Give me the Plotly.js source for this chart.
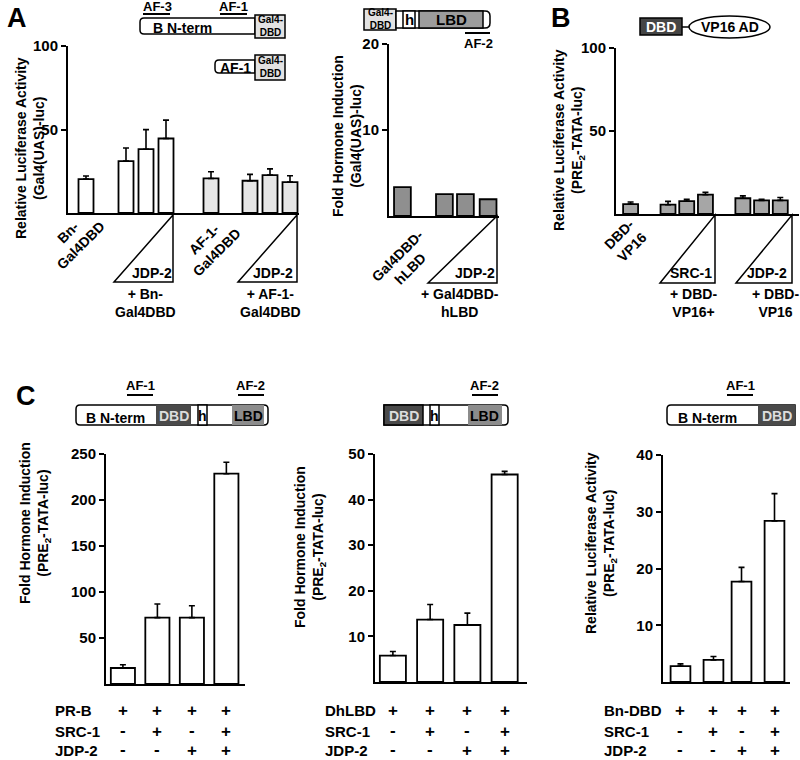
<!DOCTYPE html>
<html><head><meta charset="utf-8">
<script src="https://cdn.plot.ly/plotly-3.0.1.min.js"></script>
<style>body{margin:0;background:#fff}#chart{width:800px;height:760px}</style>
</head><body><div id="chart"></div>
<script>
// ---------------- DATA ----------------
// Panel A (left): Gal4(UAS)-luc, relative luciferase activity
const aLeftLabels = ['Bn-Gal4DBD','Bn + JDP-2 (low)','Bn + JDP-2 (mid)','Bn + JDP-2 (high)',
                     'AF-1-Gal4DBD','AF-1 + JDP-2 (low)','AF-1 + JDP-2 (mid)','AF-1 + JDP-2 (high)'];
const aLeftValues = [20.3, 31.1, 38.2, 44.6, 20.7, 19.3, 22.7, 18.5];
const aLeftErrors = [1.9, 7.8, 11.7, 11.0, 4.0, 3.8, 3.7, 3.8];

// Panel A (middle): fold hormone induction, Gal4DBD-hLBD
const aMidLabels = ['Gal4DBD-hLBD','+ JDP-2 (low)','+ JDP-2 (mid)','+ JDP-2 (high)'];
const aMidValues = [3.35, 2.55, 2.55, 1.95];

// Panel B: PRE2-TATA-luc, DBD-VP16
const bLabels = ['DBD-VP16','SRC-1 (low)','SRC-1 (mid)','SRC-1 (high)','JDP-2 (low)','JDP-2 (mid)','JDP-2 (high)'];
const bValues = [6.0, 5.6, 7.8, 11.7, 9.5, 8.2, 8.2];
const bErrors = [1.2, 2.0, 1.1, 1.4, 1.4, 0.7, 1.7];

// Panel C: conditions (rows of the +/- table)
const cRowNames = ['SRC-1','JDP-2'];
const cSRC1 = ['-','+','-','+'];
const cJDP2 = ['-','-','+','+'];

const cLeftValues  = [17.4, 72.2, 72.2, 228.6];
const cLeftErrors  = [3.6, 14.8, 12.8, 12.4];
const cMidValues   = [5.8, 13.7, 12.5, 45.5];
const cMidErrors   = [0.9, 3.3, 2.6, 0.7];
const cRightValues = [2.8, 3.9, 17.7, 28.4];
const cRightErrors = [0.4, 0.6, 2.5, 4.8];

// ---------------- LAYOUT HELPERS ----------------
const W = 800, H = 760;
const X = x => x / W;
const Y = y => 1 - y / H;
const FONT = 'Liberation Sans, Arial, Helvetica, sans-serif';

// slot positions of the bars along each x axis (layout, not data)
const aLeftSlots = [0, 2, 3, 4, 6.25, 8.2, 9.2, 10.2];
const aMidSlots  = [0, 2, 3, 4.08];
const bSlots     = [0, 2, 3, 4, 6, 7, 8];
const cSlots     = [0, 1, 2, 3];
const cRightSlots= [0, 1, 1.85, 2.85];

const layout = {
  width: W, height: H, margin: {l:0, r:0, t:0, b:0},
  paper_bgcolor: '#fff', plot_bgcolor: 'rgba(0,0,0,0)',
  showlegend: false, bargap: 0,
  font: {family: FONT, color: '#000'},
  shapes: [], annotations: []
};

function addAxes(n, x0, x1, ytop, ybot, yrange, tickvals, xrange) {
  const s = n === 1 ? '' : String(n);
  layout['xaxis' + s] = {
    domain: [X(x0), X(x1)], range: xrange, anchor: 'y' + s,
    showline: true, linecolor: '#000', linewidth: 2, ticks: '', showticklabels: false,
    showgrid: false, zeroline: false, fixedrange: true
  };
  layout['yaxis' + s] = {
    domain: [Y(ybot), Y(ytop)], range: yrange, anchor: 'x' + s,
    showline: true, linecolor: '#000', linewidth: 2, ticks: 'outside', ticklen: 5, tickwidth: 2,
    tickcolor: '#000', tickvals: tickvals, ticktext: tickvals.map(String),
    tickfont: {family: FONT, size: 15, color: '#000', weight: 'bold'},
    showgrid: false, zeroline: false, fixedrange: true
  };
}

addAxes(1, 68, 299, 46, 213, [0, 100], [50, 100], [-0.9, 10.65]);
addAxes(2, 389, 499, 44, 216, [0, 20], [10, 20], [-0.64, 4.6]);
addAxes(3, 616, 799, 48, 214, [0, 100], [50, 100], [-0.78, 9.0]);
addAxes(4, 106, 245, 454, 684, [0, 250], [50, 100, 150, 200, 250], [-0.49, 3.54]);
addAxes(5, 375, 527, 454, 682, [0, 50], [10, 20, 30, 40, 50], [-0.48, 3.6]);
addAxes(6, 663, 790, 455, 682, [0, 40], [10, 20, 30, 40], [-0.53, 3.32]);

function errBar(arr) {
  if (!arr) return {visible: false};
  return {type: 'data', symmetric: false, array: arr, arrayminus: arr.map(() => 0),
          color: '#000', thickness: 1.6, width: 3, visible: true};
}
function barTrace(n, slots, vals, errs, colors, width, names) {
  const s = n === 1 ? '' : String(n);
  const t = {type: 'bar', x: slots, y: vals, xaxis: 'x' + s, yaxis: 'y' + s, width: width,
          hoverinfo: 'y',
          marker: {color: colors, line: {color: '#000', width: 1.8}},
          error_y: errBar(errs)};
  if (names) t.hovertext = names;
  return t;
}

const LIGHT = '#e6e6e6', MIDGRAY = '#8f8f8f', BGRAY = '#a6a6a6';
const traces = [
  barTrace(1, aLeftSlots, aLeftValues, aLeftErrors,
           aLeftValues.map((v, i) => i < 4 ? '#fff' : LIGHT), 0.75, aLeftLabels),
  barTrace(2, aMidSlots, aMidValues, null, MIDGRAY, 0.8, aMidLabels),
  barTrace(3, bSlots, bValues, bErrors, BGRAY, 0.8, bLabels),
  barTrace(4, cSlots, cLeftValues, cLeftErrors, '#fff', 0.7, null),
  barTrace(5, cSlots, cMidValues, cMidErrors, '#fff', 0.7, null),
  barTrace(6, cRightSlots, cRightValues, cRightErrors, '#fff', 0.6, null)
];

// ---------------- ANNOTATION / SHAPE HELPERS ----------------
function txt(x, y, text, opt) {
  opt = opt || {};
  layout.annotations.push({
    xref: 'paper', yref: 'paper', x: X(x), y: Y(y), text: text, showarrow: false,
    xanchor: opt.xanchor || 'center', yanchor: 'middle', align: opt.align || 'center',
    textangle: opt.angle || 0,
    font: {family: FONT, size: opt.size || 14, color: opt.color || '#000', weight: 'bold'}
  });
}
function dtxt(axis, xv, y, text, size) {
  layout.annotations.push({
    xref: 'x' + axis, yref: 'paper', x: xv, y: Y(y), text: text, showarrow: false,
    xanchor: 'center', yanchor: 'middle',
    font: {family: FONT, size: size || 16, color: '#000', weight: 'bold'}
  });
}
function P(x, y) { return X(x) + ',' + Y(y); }
function path(d, fill, lw) {
  layout.shapes.push({type: 'path', xref: 'paper', yref: 'paper', path: d,
    fillcolor: fill || 'rgba(0,0,0,0)', line: {color: '#000', width: lw || 1.5}, layer: 'above'});
}
function rect(x0, y0, x1, y1, fill, lw) {
  layout.shapes.push({type: 'rect', xref: 'paper', yref: 'paper',
    x0: X(x0), x1: X(x1), y0: Y(y1), y1: Y(y0),
    fillcolor: fill || '#fff', line: {color: '#000', width: lw === undefined ? 1.5 : lw}, layer: 'above'});
}
function hline(x0, x1, y, lw) {
  layout.shapes.push({type: 'line', xref: 'paper', yref: 'paper',
    x0: X(x0), x1: X(x1), y0: Y(y), y1: Y(y), line: {color: '#000', width: lw || 2}, layer: 'above'});
}
// box with rounded left and/or right ends
function roundBox(x0, y0, x1, y1, rl, rr, fill) {
  const d = 'M ' + P(x0 + rl, y0) + ' L ' + P(x1 - rr, y0) +
            ' Q ' + P(x1, y0) + ' ' + P(x1, y0 + rr) + ' L ' + P(x1, y1 - rr) +
            ' Q ' + P(x1, y1) + ' ' + P(x1 - rr, y1) + ' L ' + P(x0 + rl, y1) +
            ' Q ' + P(x0, y1) + ' ' + P(x0, y1 - rl) + ' L ' + P(x0, y0 + rl) +
            ' Q ' + P(x0, y0) + ' ' + P(x0 + rl, y0) + ' Z';
  path(d, fill || '#fff', 1.5);
}
function triangle(xl, xr, ytop, ybot) {
  path('M ' + P(xl, ybot) + ' L ' + P(xr, ytop) + ' L ' + P(xr, ybot) + ' Z', 'rgba(0,0,0,0)', 1.5);
}

// ---------------- PANEL LETTERS ----------------
txt(17, 18, 'A', {size: 27});
txt(561, 18, 'B', {size: 27});
txt(26, 396, 'C', {size: 27});

// ---------------- Y AXIS TITLES ----------------
txt(30, 148, 'Relative Luciferase Activity<br>(Gal4(UAS)-luc)', {angle: -90, size: 14});
txt(347, 136, 'Fold Hormone Induction<br>(Gal4(UAS)-luc)', {angle: -90, size: 14});
txt(569, 140, 'Relative Luciferase Activity<br>(PRE<sub>2</sub>-TATA-luc)', {angle: -90, size: 14});
txt(35, 523, 'Fold Hormone Induction<br>(PRE<sub>2</sub>-TATA-luc)', {angle: -90, size: 14});
txt(310, 547, 'Fold Hormone Induction<br>(PRE<sub>2</sub>-TATA-luc)', {angle: -90, size: 14});
txt(601, 543, 'Relative Luciferase Activity<br>(PRE<sub>2</sub>-TATA-luc)', {angle: -90, size: 14});

// ---------------- PANEL A LEFT: diagrams + labels ----------------
txt(157, 7, 'AF-3', {size: 13}); hline(143, 170, 14);
txt(233, 7, 'AF-1', {size: 13}); hline(220, 247, 14);
roundBox(140, 18, 255, 34, 4, 0, '#fff');
txt(182, 28, 'B N-term', {size: 14});
rect(255, 15, 285, 38, '#e2e2e2');
txt(270, 26.5, 'Gal4-<br>DBD', {size: 10});
roundBox(215, 60, 255, 73, 4, 0, '#fff');
txt(235, 68, 'AF-1', {size: 14});
rect(255, 55, 285, 80, '#e2e2e2');
txt(270, 67.5, 'Gal4-<br>DBD', {size: 10});

txt(74, 239, 'Bn-<br>Gal4DBD', {angle: -45, size: 14});
txt(210, 246, 'AF-1-<br>Gal4DBD', {angle: -45, size: 14});
triangle(114, 173, 215, 282); txt(152, 273, 'JDP-2', {size: 14});
triangle(238, 297, 215, 282); txt(273, 273, 'JDP-2', {size: 14});
txt(145, 303, '+ Bn-<br>Gal4DBD', {size: 14});
txt(270, 303, '+ AF-1-<br>Gal4DBD', {size: 14});

// ---------------- PANEL A MIDDLE ----------------
rect(364, 9, 396, 30, '#e2e2e2');
txt(380, 19.5, 'Gal4-<br>DBD', {size: 10});
roundBox(396, 11, 490, 28, 0, 5, '#fff');
rect(403, 11, 415, 28, '#fff');
txt(409, 20, 'h', {size: 15});
rect(419, 11, 483, 28, '#9c9c9c');
txt(451, 20, 'LBD', {size: 15});
hline(465, 490, 33);
txt(478, 43, 'AF-2', {size: 13});

txt(404, 262, 'Gal4DBD-<br>hLBD', {angle: -45, size: 14});
triangle(428, 497, 216, 283); txt(475, 273, 'JDP-2', {size: 14});
txt(460, 303, '+ Gal4DBD-<br>hLBD', {size: 14});

// ---------------- PANEL B ----------------
rect(640, 18, 682, 35, '#454545');
txt(661, 27, 'DBD', {size: 14, color: '#fff'});
hline(682, 689, 27, 1.5);
layout.shapes.push({type: 'circle', xref: 'paper', yref: 'paper',
  x0: X(689), x1: X(770), y0: Y(38), y1: Y(16), fillcolor: '#fff',
  line: {color: '#000', width: 1.5}, layer: 'above'});
txt(729.5, 27, 'VP16 AD', {size: 14});

txt(625, 241, 'DBD-<br>VP16', {angle: -45, size: 14});
triangle(660, 715, 215, 283); txt(691, 273, 'SRC-1', {size: 14});
triangle(736, 792, 215, 283); txt(767, 273, 'JDP-2', {size: 14});
txt(693, 303, '+ DBD-<br>VP16+', {size: 14});
txt(775, 303, '+ DBD-<br>VP16', {size: 14});

// ---------------- PANEL C diagrams ----------------
// left: full PR-B
txt(140, 385, 'AF-1', {size: 13}); hline(127, 153, 395);
txt(251, 385, 'AF-2', {size: 13}); hline(238, 264, 395);
roundBox(76, 405, 268, 425, 4, 4, '#fff');
rect(156, 405, 191, 425, '#4a4a4a', 0);
txt(173.5, 416, 'DBD', {size: 14, color: '#ddd'});
rect(198, 405, 207, 425, '#fff');
txt(202.5, 416, 'h', {size: 14});
rect(232, 405, 264, 425, '#8c8c8c', 0);
txt(248, 416, 'LBD', {size: 14});
txt(116, 418, 'B N-term', {size: 14});

// middle: DhLBD
txt(485, 385, 'AF-2', {size: 13}); hline(472, 498, 395);
roundBox(384, 405, 508, 425, 0, 4, '#fff');
rect(384, 405, 423, 425, '#4a4a4a', 1.5);
txt(403.5, 416, 'DBD', {size: 14, color: '#ddd'});
rect(430, 405, 439, 425, '#fff');
txt(434.5, 416, 'h', {size: 14});
rect(468, 405, 502, 425, '#8c8c8c', 0);
txt(485, 416, 'LBD', {size: 14});

// right: Bn-DBD
txt(740, 385, 'AF-1', {size: 13}); hline(727, 753, 395);
roundBox(667, 405, 795, 425, 4, 0, '#fff');
rect(758, 405, 795, 425, '#4a4a4a', 0);
txt(776.5, 416, 'DBD', {size: 14, color: '#ddd'});
txt(707, 418, 'B N-term', {size: 14});

// ---------------- PANEL C +/- tables ----------------
function table(axis, slots, firstName, labelX) {
  const rows = [[firstName, ['+','+','+','+']], [cRowNames[0], cSRC1], [cRowNames[1], cJDP2]];
  const ys = [710, 731, 750];
  rows.forEach((r, i) => {
    txt(labelX, ys[i], r[0], {xanchor: 'left', size: 15});
    r[1].forEach((sgn, j) => dtxt(axis, slots[j], ys[i] - (sgn === '-' ? 1 : 0), sgn, 17));
  });
}
table(4, cSlots, 'PR-B', 53);
table(5, cSlots, 'DhLBD', 323);
table(6, cRightSlots, 'Bn-DBD', 602);

Plotly.newPlot('chart', traces, layout, {staticPlot: true, displayModeBar: false});
</script>
</body></html>
